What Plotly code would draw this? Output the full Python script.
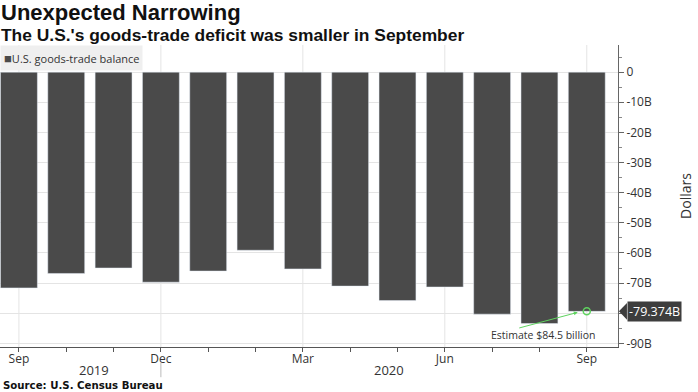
import plotly.graph_objects as go

months = ["Sep 2019", "Oct 2019", "Nov 2019", "Dec 2019", "Jan 2020", "Feb 2020",
          "Mar 2020", "Apr 2020", "May 2020", "Jun 2020", "Jul 2020", "Aug 2020", "Sep 2020"]
balance = [-71.6, -66.8, -65.0, -69.7, -66.0, -59.1, -65.3, -71.0, -75.8, -71.3, -80.3, -83.4, -79.374]
month_labels = ["Sep", "", "", "Dec", "", "", "Mar", "", "", "Jun", "", "", "Sep"]
y_ticks = [0, -10, -20, -30, -40, -50, -60, -70, -80, -90]
y_labels = ["0", "-10B", "-20B", "-30B", "-40B", "-50B", "-60B", "-70B", "", "-90B"]
years = ["2019", "2020"]
series_name = "U.S. goods-trade balance"
last_label = "-79.374B"
estimate_text = "Estimate $84.5 billion"

BAR = "#4a4a4a"
GRID = "#e4e4e4"
GREEN = "#5fd35f"
FONT = "Open Sans, Noto Sans, sans-serif"
TICKFONT = dict(family=FONT, size=12, color="#333333")

fig = go.Figure()
fig.add_trace(go.Bar(x=months, y=balance, marker_color=BAR, width=0.78,
                     name=series_name, showlegend=False))
fig.add_trace(go.Scatter(x=[months[-1]], y=[balance[-1]], mode="markers",
                         marker=dict(symbol="circle-open", size=7, color=GREEN, line=dict(width=1.5)),
                         showlegend=False, hoverinfo="skip"))

# vertical gridlines at labelled months
for m, lab in zip(months, month_labels):
    if lab:
        fig.add_shape(type="line", xref="x", yref="paper", x0=m, x1=m, y0=0, y1=1,
                      line=dict(color=GRID, width=1), layer="below")

# year separator
fig.add_shape(type="line", xref="x", yref="paper", x0=months[3], x1=months[3], y0=-0.053, y1=-0.10,
              line=dict(color="#bbbbbb", width=1))

fig.update_layout(
    width=698, height=392,
    margin=dict(l=0, r=80, t=45, b=45, autoexpand=False),
    plot_bgcolor="white", paper_bgcolor="white",
    showlegend=False,
    xaxis=dict(type="category", range=[-0.4, 12.66], tickvals=months, ticktext=month_labels,
               ticks="outside", ticklen=4, tickcolor="#555555", showgrid=False, automargin=False,
               showline=True, linecolor="#555555", linewidth=1, tickfont=TICKFONT,
               ticklabelstandoff=-3, zeroline=False, fixedrange=True),
    yaxis=dict(side="right", range=[-91.2, 9], tickvals=y_ticks, ticktext=y_labels, automargin=False,
               ticks="outside", ticklen=5, tickcolor="#666666", showgrid=True, gridcolor=GRID,
               showline=True, linecolor="#666666", linewidth=1, tickfont=TICKFONT,
               zeroline=False, fixedrange=True,
               minor=dict(dtick=5, ticks="outside", ticklen=3, tickcolor="#888888", showgrid=False),
               title=dict(text="Dollars", font=dict(family=FONT, size=14, color="#333333"),
                          standoff=30)),
    annotations=[
        dict(text="<b>Unexpected Narrowing</b>", xref="paper", yref="paper", x=0, y=1,
             xanchor="left", yanchor="middle", showarrow=False, xshift=-1, yshift=32.5,
             font=dict(family="Liberation Sans, Arial, sans-serif", size=22, color="#111111")),
        dict(text="<b>The U.S.'s goods-trade deficit was smaller in September</b>", xref="paper", yref="paper",
             x=0, y=1, xanchor="left", yanchor="middle", showarrow=False, xshift=-1, yshift=10.5,
             font=dict(family="Liberation Sans, Arial, sans-serif", size=17.4, color="#111111")),
        dict(text="<span style='color:#4a4a4a;font-size:13px'>■</span>" + series_name,
             xref="paper", yref="paper", x=0, y=1,
             xanchor="left", yanchor="top", showarrow=False, bgcolor="#efefef", borderpad=3, yshift=0,
             font=dict(family=FONT, size=11, color="#333333")),
        dict(text="<b>Source: U.S. Census Bureau</b>", xref="paper", yref="paper", x=0, y=0,
             xanchor="left", yanchor="middle", showarrow=False, xshift=1, yshift=-38,
             font=dict(family="DejaVu Sans, sans-serif", size=10.2, color="#111111")),
        dict(text=years[0], xref="paper", yref="paper", x=94 / 618, y=0, xanchor="center",
             yanchor="middle", yshift=-23, showarrow=False, font=dict(family=FONT, size=13, color="#333333")),
        dict(text=years[1], xref="paper", yref="paper", x=389 / 618, y=0, xanchor="center",
             yanchor="middle", yshift=-23, showarrow=False, font=dict(family=FONT, size=13, color="#333333")),
        dict(text=last_label, xref="paper", yref="y", x=1, y=balance[-1], xanchor="left", xshift=9,
             showarrow=False, bgcolor="#3d3d3d", borderpad=1,
             font=dict(family=FONT, size=12.5, color="white")),
        dict(text=estimate_text, xref="x", yref="y", x=months[-1], y=balance[-1], xshift=-44, yshift=-24,
             showarrow=False, font=dict(family=FONT, size=10.5, color="#333333")),
        dict(text="", xref="x", yref="y", x=months[-1], y=balance[-1], xshift=-9, yshift=-1,
             showarrow=True, axref="pixel", ayref="pixel", ax=-60, ay=16, arrowhead=2, arrowsize=0.8,
             arrowwidth=1, arrowcolor=GREEN),
    ],
)

# pointer of the last-value tag
fig.add_shape(type="path", xref="paper", yref="y",
              path=f"M 1.0015,{balance[-1]} L 1.0145,{balance[-1] + 2.8} L 1.0145,{balance[-1] - 2.8} Z",
              fillcolor="#3d3d3d", line=dict(width=0))

fig.write_html("out.html", config={"displayModeBar": False},
               post_script="document.body.style.margin='0';")
